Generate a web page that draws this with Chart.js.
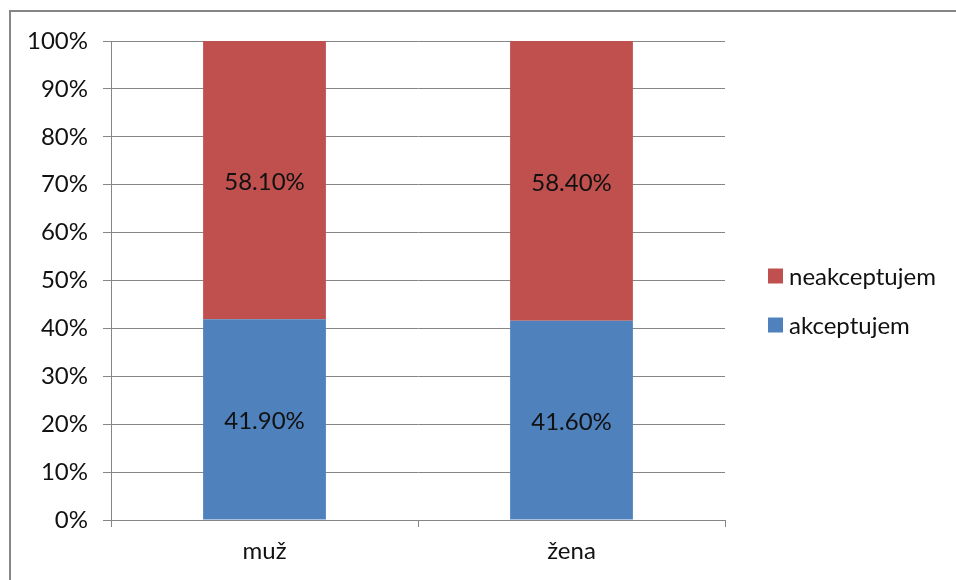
<!DOCTYPE html>
<html><head><meta charset="utf-8">
<script src="https://cdn.jsdelivr.net/npm/chart.js@4"></script>
<style>html,body{margin:0;padding:0;background:#fff;}canvas{display:block;}</style>
</head><body>
<canvas id="c" width="956" height="580"></canvas>
<script>
const categories = ['muž', 'žena'];
const akceptujem = [41.9, 41.6];
const neakceptujem = [58.1, 58.4];
const seriesNames = ['akceptujem', 'neakceptujem'];
const yTicks = [0, 10, 20, 30, 40, 50, 60, 70, 80, 90, 100];

const FONT = 'Lato, "Open Sans", sans-serif';
const GRID = '#868686';
const TEXT = '#111';

const frame = {
  id: 'frame',
  afterDraw(chart) {
    const ctx = chart.ctx;
    ctx.save();
    ctx.strokeStyle = GRID;
    ctx.lineWidth = 2;
    ctx.beginPath();
    ctx.moveTo(10, 580);
    ctx.lineTo(10, 11);
    ctx.lineTo(956, 11);
    ctx.stroke();
    // data labels
    ctx.font = '24px ' + FONT;
    ctx.fillStyle = TEXT;
    ctx.textAlign = 'center';
    ctx.textBaseline = 'middle';
    chart.data.datasets.forEach((ds, i) => {
      chart.getDatasetMeta(i).data.forEach((bar, j) => {
        const p = bar.getProps(['x', 'y', 'base'], true);
        ctx.fillText(ds.data[j].toFixed(2) + '%', p.x, (p.y + p.base) / 2 + 2);
      });
    });
    // legend (reverse order)
    const items = chart.data.datasets.slice().reverse();
    items.forEach((ds, k) => {
      const cy = 276 + k * 49;
      ctx.fillStyle = ds.backgroundColor;
      ctx.fillRect(768, cy - 7.5, 15, 15);
      ctx.fillStyle = TEXT;
      ctx.textAlign = 'left';
      ctx.fillText(ds.label, 789, cy + 1);
    });
    ctx.restore();
  }
};

new Chart(document.getElementById('c'), {
  type: 'bar',
  data: {
    labels: categories,
    datasets: [
      { label: seriesNames[0], data: akceptujem, backgroundColor: '#4F81BD', barPercentage: 0.4, categoryPercentage: 1 },
      { label: seriesNames[1], data: neakceptujem, backgroundColor: '#C0504D', barPercentage: 0.4, categoryPercentage: 1 }
    ]
  },
  options: {
    responsive: false,
    animation: false,
    events: [],
    layout: { padding: { top: 41, right: 231, left: 0, bottom: 0 } },
    plugins: { legend: { display: false }, tooltip: { enabled: false } },
    scales: {
      x: {
        stacked: true,
        grid: { drawOnChartArea: false, drawTicks: true, tickLength: 7, color: GRID, offset: true },
        border: { color: GRID, width: 1 },
        ticks: { color: TEXT, font: { family: FONT, size: 24 }, padding: 10 },
        afterFit(s) { s.height = 60; }
      },
      y: {
        stacked: true,
        min: 0, max: 100,
        afterBuildTicks(s) { s.ticks = yTicks.map(v => ({ value: v })); },
        grid: { color: GRID, tickLength: 8 },
        border: { color: GRID, width: 1 },
        ticks: { color: TEXT, font: { family: FONT, size: 24 }, padding: 15, callback: v => v + '%' },
        afterFit(s) { s.width = 111; }
      }
    }
  },
  plugins: [frame]
});
</script>
</body></html>
